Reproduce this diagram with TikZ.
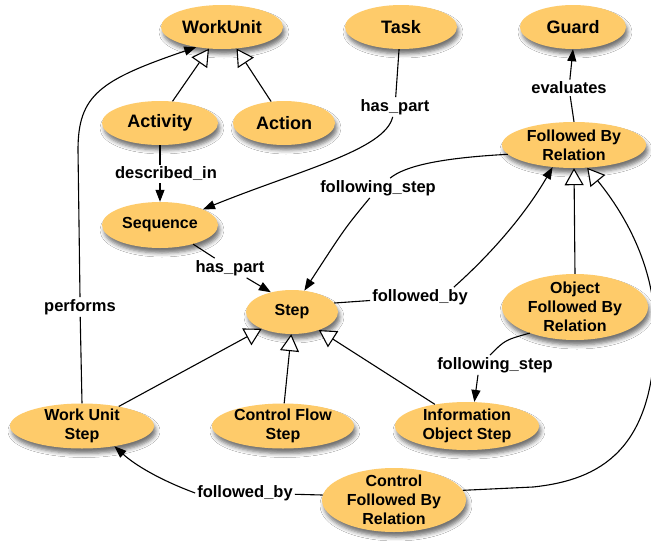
\documentclass[tikz,border=0pt]{standalone}
\usepackage{fontspec}
\setmainfont{Liberation Sans}
\usetikzlibrary{shapes.geometric,arrows.meta,shadows.blur,calc}
\definecolor{entfill}{RGB}{254,203,106}
\begin{document}
\begin{tikzpicture}[x=1pt,y=-1pt,
  ent/.style={ellipse, fill=entfill, inner sep=0pt, align=center,
    font=\bfseries\fontsize{16}{19}\selectfont,
    blur shadow={shadow xshift=2pt, shadow yshift=-5pt,
      shadow blur radius=4pt, shadow opacity=55}},
  topent/.style={ent, font=\bfseries\fontsize{18}{21}\selectfont},
  rel/.style={font=\bfseries\fontsize{16.5}{19}\selectfont, inner sep=2pt},
  conn/.style={line width=1.1pt},
  arr/.style={conn, -{Triangle[length=12pt,width=9pt]}},
  gen/.style={conn, -{Triangle[fill=white,length=17pt,width=19pt,line width=1.1pt]}}]

\fill[white] (0,0) rectangle (651,541);
\useasboundingbox (0,0) rectangle (651,541);

% classes
\node[topent, minimum width=122pt, minimum height=44pt] (wu) at (222,27) {WorkUnit};
\node[topent, minimum width=112pt, minimum height=44pt] (task) at (401,27) {Task};
\node[topent, minimum width=106pt, minimum height=44pt] (guard) at (573,27) {Guard};
\node[topent, minimum width=116pt, minimum height=44pt] (act) at (160,123) {Activity};
\node[topent, minimum width=102pt, minimum height=44pt] (action) at (284,123) {Action};
\node[ent, minimum width=144pt, minimum height=46pt, inner ysep=-2pt] (fbr) at (574,145) {Followed By\\Relation};
\node[ent, minimum width=116pt, minimum height=46pt] (seq) at (160,225) {Sequence};
\node[ent, minimum width=92pt, minimum height=44pt] (step) at (292,312) {Step};
\node[ent, minimum width=146pt, minimum height=66pt, inner ysep=-3pt] (ofbr) at (575,307) {Object\\Followed By\\Relation};
\node[ent, minimum width=144pt, minimum height=45pt, inner ysep=-2pt] (wus) at (82,426) {Work Unit\\Step};
\node[ent, minimum width=142pt, minimum height=45pt, inner ysep=-2pt] (cfs) at (283,426) {Control Flow\\Step};
\node[ent, minimum width=144pt, minimum height=48pt, inner ysep=-2pt] (ios) at (467,426) {Information\\Object Step};
\node[ent, minimum width=144pt, minimum height=64pt, inner ysep=-3pt] (cfbr) at (394,500) {Control\\Followed By\\Relation};

% relation labels
\node[rel] (lhp1) at (395,107) {has\_part};
\node[rel] (lfs1) at (378,188) {following\_step};
\node[rel] (ldesc) at (166,174) {described\_in};
\node[rel] (lhp2) at (230,268) {has\_part};
\node[rel] (lfb1) at (420,297) {followed\_by};
\node[rel] (leval) at (569,88) {evaluates};
\node[rel] (lperf) at (80,307) {performs};
\node[rel] (lfs2) at (495,365) {following\_step};
\node[rel] (lfb2) at (245,493) {followed\_by};

% generalisations
\draw[gen] (act.60) -- (wu.239);
\draw[gen] (action.121) -- (wu.304);
\draw[gen] (ofbr.north) -- (fbr.south);
\draw[gen] (cfbr.8) -- (533,487) .. controls (600,480) and (655,450) .. (655,330)
  .. controls (655,270) and (628,218) .. (fbr.300);
\draw[gen] (wus.28) -- (step.209);
\draw[gen] (cfs.87) -- (step.268);
\draw[gen] (ios.146) -- (step.326);

% associations
\draw[conn] (task.265) -- (lhp1);
\draw[arr] (lhp1) .. controls (385,150) and (300,170) .. (seq.20);

\draw[conn] (act.south) -- (ldesc.north -| act.south);
\draw[arr] (ldesc.south -| act.south) -- (seq.north);

\draw[conn] (seq.-30) -- (lhp2);
\draw[arr] (lhp2) -- (step.137);

\draw[conn] (fbr.188) .. controls (440,158) and (405,166) .. (lfs1);
\draw[arr] (lfs1) .. controls (345,228) .. (step.60);

\draw[conn] (step.12) -- (lfb1);
\draw[arr] ([xshift=-16pt]lfb1.north east) .. controls (490,255) and (525,215) .. (fbr.226);

\draw[conn] (fbr.north) -- (leval);
\draw[arr] (leval) -- (guard.south);

\draw[conn] (wus.north) -- (lperf);
\draw[arr] (lperf.north) -- (78,150) .. controls (78,95) and (100,80) .. (wu.218);

\draw[conn] (ofbr.210) .. controls (505,340) .. ([xshift=-5pt]lfs2.north);
\draw[arr] ([xshift=-17pt]lfs2.south) -- (ios.73);

\draw[conn] (cfbr.176) -- (lfb2);
\draw[arr] (lfb2.west) .. controls (160,480) and (135,465) .. (wus.328);

\end{tikzpicture}
\end{document}
